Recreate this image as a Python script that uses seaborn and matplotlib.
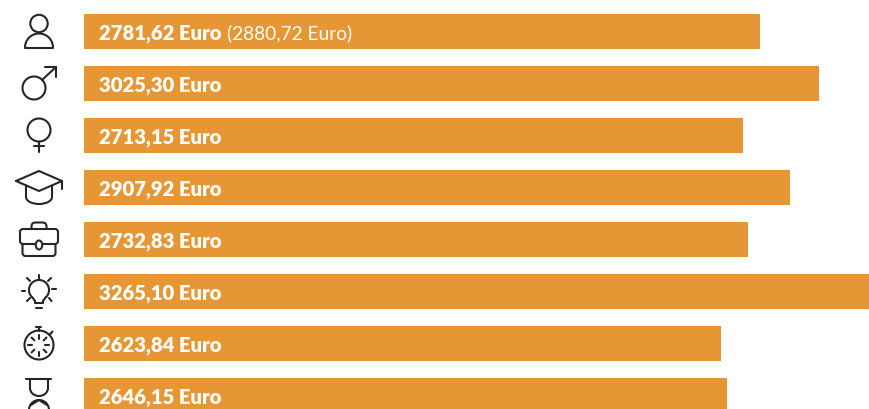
import numpy as np
import pandas as pd
import seaborn as sns
import matplotlib.pyplot as plt
from matplotlib.patches import Arc, Circle, Ellipse, FancyBboxPatch

groups = ['all', 'men', 'women', 'graduates', 'employed', 'creative', 'fulltime', 'parttime']
salaries = [2781.62, 3025.30, 2713.15, 2907.92, 2732.83, 3265.10, 2623.84, 2646.15]
labels = ['2781,62 Euro', '3025,30 Euro', '2713,15 Euro', '2907,92 Euro',
          '2732,83 Euro', '3265,10 Euro', '2623,84 Euro', '2646,15 Euro']
extra_label = '(2880,72 Euro)'

BAR = '#E69635'
INK = '#262626'
FONT = 'Lato'

sns.set_theme(style='white')
plt.rcParams['font.family'] = [FONT, 'DejaVu Sans']

df = pd.DataFrame({'group': groups, 'salary': salaries})

fig = plt.figure(figsize=(8.7, 4.09), dpi=100)
ax = fig.add_axes([84 / 870, 0, 786 / 870, 1])
sns.barplot(data=df, x='salary', y='group', color=BAR, saturation=1, width=35 / 52, linewidth=0, ax=ax)
ax.set_xlim(0, 786 / 0.24295)
ax.set_ylim((409 - 31.5) / 52, -31.5 / 52)
ax.axis('off')

for i, txt in enumerate(labels):
    ax.annotate(txt, xy=(0, i), xytext=(15, 0), textcoords='offset pixels', color='white',
                fontsize=14.6, fontweight='heavy', va='center_baseline')
ax.annotate(extra_label, xy=(0, 0), xytext=(143, 0), textcoords='offset pixels', color='white',
            fontsize=13.8, fontweight='normal', va='center_baseline')

# icons, drawn in pixel coords on an overlay
ic = fig.add_axes([0, 0, 1, 1], facecolor='none')
ic.set_xlim(0, 870)
ic.set_ylim(409, 0)
ic.axis('off')
LW = 1.5


def line(xs, ys):
    ic.plot(xs, ys, color=INK, lw=LW, solid_capstyle='round', solid_joinstyle='round')


def circle(x, y, r):
    ic.add_patch(Circle((x, y), r, fill=False, ec=INK, lw=LW))


def arc(x, y, w, h, a, b):
    ic.add_patch(Arc((x, y), w, h, theta1=a, theta2=b, ec=INK, lw=LW))


# person
circle(39, 23.5, 8.7)
arc(39, 47.5, 28, 28, 180, 360)
line([25, 53], [47.5, 47.5])

# male
circle(34, 88, 11.5)
line([42, 56], [80, 67])
line([45, 56, 56], [67, 67, 77])

# female
circle(39, 130, 11.5)
line([39, 39], [141.5, 152])
line([34.5, 44], [146, 146])

# graduate cap
line([16, 39, 62, 39, 16], [181, 171, 181, 191, 181])
line([62, 62], [181, 189])
line([26, 26], [186, 197])
line([52, 52], [186, 197])
arc(39, 197, 26, 14, 0, 180)

# briefcase
ic.add_patch(FancyBboxPatch((31.5, 222.5), 15, 10, boxstyle='round,pad=0,rounding_size=4', fill=False, ec=INK, lw=LW))
ic.add_patch(FancyBboxPatch((22.5, 240), 33, 16, boxstyle='round,pad=0,rounding_size=3', fill=False, ec=INK, lw=LW))
ic.add_patch(FancyBboxPatch((20, 229), 38, 15, boxstyle='round,pad=0,rounding_size=3', fc='white', ec=INK, lw=LW, zorder=2.5))
ic.add_patch(Ellipse((39, 245), 6.5, 9, fc='white', ec=INK, lw=LW, zorder=3))

# bulb
arc(39, 290, 20, 20, 130, 50)
line([32.5, 35, 35, 43, 43, 45.5], [297.5, 301, 303, 303, 301, 297.5])
line([36, 42], [307.5, 307.5])
line([39, 39], [275, 278.5])
line([22.5, 25.5], [291, 291])
line([52.5, 56], [289, 289])
line([27, 30], [278, 281])
line([48, 51], [281, 278])
line([27, 30], [301, 298])
line([49, 51.5], [298, 301])

# stopwatch
circle(39, 345, 14.5)
line([39, 39], [327, 331])
line([36.5, 41.5], [327, 327])
line([49.5, 52.5], [335, 331.5])
for a in np.arange(0, 360, 45):
    c, s = np.cos(np.radians(a)), np.sin(np.radians(a))
    line([39 + 6.5 * c, 39 + 10.5 * c], [345 + 6.5 * s, 345 + 10.5 * s])

# hourglass
line([26.5, 51.5], [379, 379])
line([30, 30], [379, 388])
line([48, 48], [379, 388])
arc(39, 388, 18, 16, 0, 180)
circle(39, 410, 10)
line([31, 39, 47], [405, 400, 405])

fig.savefig('out.png', dpi=100)
